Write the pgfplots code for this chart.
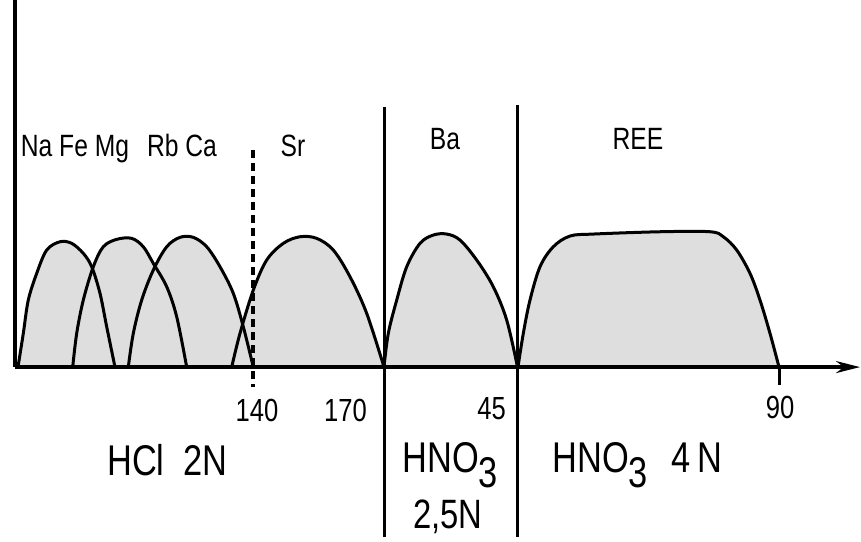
\documentclass[border=0pt]{standalone}
\usepackage{fontspec}
\setmainfont[FakeStretch=0.8]{Liberation Sans}
\usepackage{pgfplots}
\usepackage{pgfplotstable}
\pgfplotsset{compat=1.18}
\usetikzlibrary{arrows.meta}

% elution peaks: x along the column volume, y = peak height
\pgfplotstableread{
x y
18 0
23.3 33.7
28.3 67
36.7 93.7
46.7 117
60 125.3
71.7 123.7
83.3 113.7
91.7 100.3
100 73.7
106.7 40.3
115 0
}\peakNa
\pgfplotstableread{
x y
72.7 0
76.7 33.7
83.3 67
93.3 100.3
103.3 120.3
116.7 127.7
131.7 128.7
143.3 120.3
153.3 103.7
166.7 80.3
176.7 50.3
186.7 0
}\peakFe
\pgfplotstableread{
x y
128.3 0
133.3 33.7
141.7 67
153.3 97
166.7 120.3
180 129.7
193.3 129.7
206.7 120.3
220 100.3
233.3 73.7
243.3 40.3
253.3 0
}\peakCa
\pgfplotstableread{
x y
231.7 0
240 33.7
253.3 77
266.7 107
283.3 123.7
300 130.3
316.7 128.7
333.3 117
350 90.3
366.7 53.7
384 0
}\peakSr
\pgfplotstableread{
x y
384 0
388.3 33.7
396.7 67
406.7 100.3
420 123.7
433.3 132
446.7 133
460 127
476.7 107
493.3 80.3
506.7 47
517.5 0
}\peakBa
\pgfplotstableread{
x y
518 0
523.3 33.7
530 67
540 100.3
553.3 120.3
570 131
593.3 133
660 135.3
710 135.3
723.3 130.3
736.7 117
750 93.7
760 67
770 33.7
779 0
}\peakREE

\begin{document}
\begin{tikzpicture}
\begin{axis}[
	scale only axis,
	width=430.5pt, height=270.5pt,
	xmin=0, xmax=861, ymin=-174, ymax=367,
	axis lines=none,
	clip=false,
	every axis plot/.append style={line width=1.5pt, line join=round},
	peak/.style={fill=black!13, draw=none, smooth, tension=0.55},
	edge/.style={draw=black, smooth, tension=0.55},
]
	\addplot[peak] table {\peakNa};
	\addplot[peak] table {\peakFe};
	\addplot[peak] table {\peakCa};
	\addplot[peak] table {\peakSr};
	\addplot[peak] table {\peakBa};
	\addplot[peak] table {\peakREE};
	\addplot[edge] table {\peakNa};
	\addplot[edge] table {\peakFe};
	\addplot[edge] table {\peakCa};
	\addplot[edge] table {\peakSr};
	\addplot[edge] table {\peakBa};
	\addplot[edge] table {\peakREE};

	% axes and separators
	\addplot[black, line width=1.6pt] coordinates {(15,367) (15,0)};
	\addplot[black, line width=1.6pt, -{Stealth[length=12pt, width=6pt]}] coordinates {(15,0) (860,0)};
	\addplot[black, line width=2pt, dash pattern=on 4pt off 2.5pt] coordinates {(253,217) (253,-20)};
	\addplot[black] coordinates {(384,260) (384,-170)};
	\addplot[black] coordinates {(517,262) (517,-170)};
	\addplot[black] coordinates {(779,0) (779,-18)};

	% element labels
	\begin{scope}[every node/.style={anchor=base, font=\fontsize{15.4}{16}\selectfont}]
		\node at (axis cs:75,211) {Na Fe Mg};
		\node at (axis cs:182,211) {Rb Ca};
		\node at (axis cs:293,211) {Sr};
		\node at (axis cs:445,218) {Ba};
		\node at (axis cs:638,218) {REE};
	\end{scope}

	% volume marks
	\begin{scope}[every node/.style={font=\fontsize{16}{16}\selectfont}]
		\node[anchor=base] at (axis cs:257,-54.5) {140};
		\node[anchor=base east] at (axis cs:374,-54.5) {170};
		\node[anchor=base east] at (axis cs:513,-52.5) {45};
		\node[anchor=base] at (axis cs:780,-51) {90};
	\end{scope}

	% eluents
	\begin{scope}[every node/.style={font=\fontsize{21.5}{22}\selectfont}]
		\node[anchor=base] at (axis cs:167.5,-108) {HCl\hspace{0.45em}2N};
		\node[anchor=base west, inner sep=0pt] at (axis cs:402,-105) {HNO\raisebox{-0.36em}{3}};
		\node[anchor=base west, inner sep=0pt, font=\fontsize{20.5}{21}\selectfont] at (axis cs:413,-161) {2,5N};
		\node[anchor=base west, inner sep=0pt] at (axis cs:552,-105) {HNO\raisebox{-0.36em}{3}\hspace{0.55em}4\,N};
	\end{scope}
\end{axis}
\pgfresetboundingbox
\path (current axis.south west) rectangle (current axis.north east);
\end{tikzpicture}
\end{document}
